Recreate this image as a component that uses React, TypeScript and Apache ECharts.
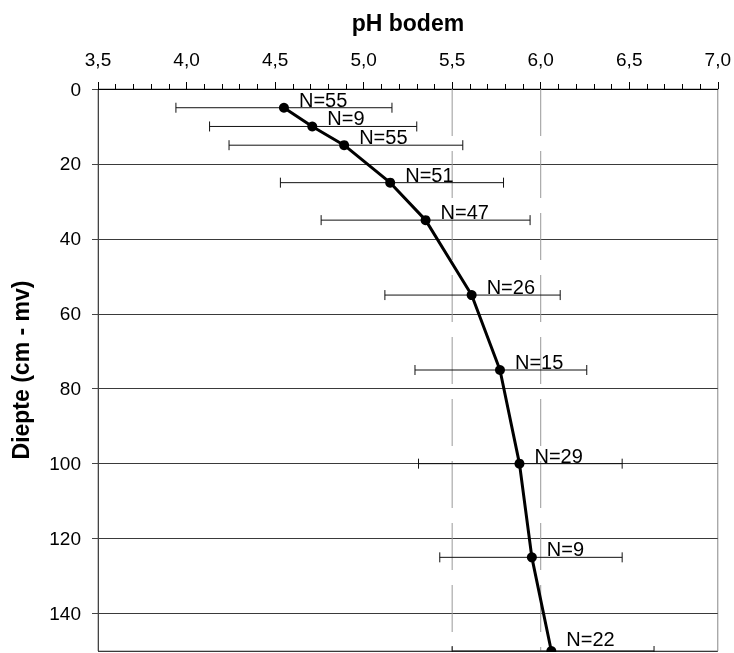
import React, { useEffect, useRef } from "react";
import * as echarts from "echarts";

const depths = [5, 10, 15, 25, 35, 55, 75, 100, 125, 150];
const phMean = [4.55, 4.71, 4.89, 5.15, 5.35, 5.61, 5.77, 5.88, 5.95, 6.06];
const phLow = [3.94, 4.13, 4.24, 4.53, 4.76, 5.12, 5.29, 5.31, 5.43, 5.5];
const phHigh = [5.16, 5.3, 5.56, 5.79, 5.94, 6.11, 6.26, 6.46, 6.46, 6.64];
const counts = [55, 9, 55, 51, 47, 26, 15, 29, 9, 22];
const refLines = [5.5, 6.0];
const phMin = 3.5;
const phMax = 7.0;
const depthMin = 0;
const depthMax = 150;

const FONT = "'Liberation Sans', Arial, sans-serif";

export default function App() {
  const ref = useRef<HTMLDivElement>(null);

  useEffect(() => {
    if (!ref.current) return;
    const chart = echarts.init(ref.current, null, { renderer: "svg" });

    const refSeries = refLines.map((v) => ({
      type: "line",
      data: [
        [v, depthMin],
        [v, depthMax],
      ],
      symbol: "none",
      silent: true,
      clip: false,
      z: 1,
      lineStyle: { color: "#999", width: 1, type: [47, 15] },
    }));

    const lastIdx = depths.length - 1;

    const option: any = {
      animation: false,
      textStyle: { fontFamily: FONT },
      grid: {
        left: 98,
        top: 89,
        right: 16,
        bottom: 1,
        show: true,
        borderColor: "#888",
        borderWidth: 1,
        backgroundColor: "transparent",
      },
      xAxis: {
        type: "value",
        position: "top",
        min: phMin,
        max: phMax,
        interval: 0.5,
        axisLine: { show: true, onZero: false, lineStyle: { color: "#000", width: 1 } },
        axisTick: { show: true, inside: false, length: 7, lineStyle: { color: "#000" } },
        minorTick: { show: true, splitNumber: 5, length: 5, lineStyle: { color: "#000" } },
        splitLine: { show: false },
        axisLabel: {
          formatter: (v: number) => v.toFixed(1).replace(".", ","),
          margin: 20,
          fontSize: 19,
          color: "#000",
          fontFamily: FONT,
        },
        name: "pH bodem",
        nameLocation: "middle",
        nameGap: 55,
        nameTextStyle: { fontSize: 23, fontWeight: "bold", color: "#000", fontFamily: FONT },
      },
      yAxis: {
        type: "value",
        inverse: true,
        min: depthMin,
        max: depthMax,
        interval: 20,
        axisLine: { show: true, onZero: false, lineStyle: { color: "#444", width: 1 } },
        axisTick: { show: true, inside: false, length: 6, lineStyle: { color: "#444" } },
        splitLine: { show: true, lineStyle: { color: "#3a3a3a", width: 1 } },
        axisLabel: {
          margin: 17,
          fontSize: 19,
          color: "#000",
          fontFamily: FONT,
          showMaxLabel: false,
        },
        name: "Diepte (cm - mv)",
        nameLocation: "middle",
        nameGap: 66,
        nameTextStyle: { fontSize: 23, fontWeight: "bold", color: "#000", fontFamily: FONT },
      },
      series: [
        ...refSeries,
        {
          type: "custom",
          clip: false,
          z: 2,
          data: depths.map((d, i) => [phLow[i], phHigh[i], d]),
          encode: { x: [0, 1], y: 2 },
          renderItem: (params: any, api: any) => {
            const lo = api.coord([api.value(0), api.value(2)]);
            const hi = api.coord([api.value(1), api.value(2)]);
            const style = { stroke: "#111", lineWidth: 1 };
            return {
              type: "group",
              children: [
                { type: "line", shape: { x1: lo[0], y1: lo[1], x2: hi[0], y2: hi[1] }, style },
                { type: "line", shape: { x1: lo[0], y1: lo[1] - 5, x2: lo[0], y2: lo[1] + 5 }, style },
                { type: "line", shape: { x1: hi[0], y1: hi[1] - 5, x2: hi[0], y2: hi[1] + 5 }, style },
              ],
            };
          },
        },
        {
          type: "line",
          clip: false,
          z: 3,
          data: depths.map((d, i) =>
            i === lastIdx
              ? { value: [phMean[i], d], label: { offset: [0, -12] } }
              : [phMean[i], d]
          ),
          symbol: "circle",
          symbolSize: 10,
          itemStyle: { color: "#000" },
          lineStyle: { color: "#000", width: 3 },
          label: {
            show: true,
            position: "right",
            distance: 10,
            offset: [0, -8],
            fontSize: 20,
            color: "#000",
            fontFamily: FONT,
            formatter: (p: any) => "N=" + counts[p.dataIndex],
          },
        },
      ],
    };

    chart.setOption(option);
    return () => chart.dispose();
  }, []);

  return (
    <div
      ref={ref}
      style={{ position: "fixed", left: 0, top: 0, width: 734, height: 652, overflow: "hidden" }}
    />
  );
}
